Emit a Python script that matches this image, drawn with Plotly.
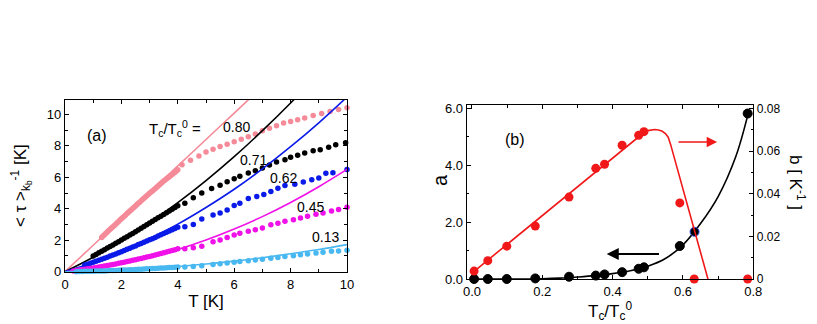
import plotly.graph_objects as go

# ---------------- Panel (a) data ----------------
# Tc/Tc0 = 0.80 (pink)
t_080 = [1.3, 1.35, 1.4, 1.45, 1.5, 1.55, 1.6, 1.65, 1.7, 1.75, 1.8, 1.85, 1.9, 1.95, 2.0, 2.05,
         2.1, 2.15, 2.2, 2.25, 2.3, 2.35, 2.4, 2.45, 2.5, 2.55, 2.6, 2.65, 2.7, 2.75, 2.8, 2.85,
         2.9, 2.95, 3.0, 3.05, 3.1, 3.15, 3.2, 3.25, 3.3, 3.35, 3.4, 3.45, 3.5, 3.55, 3.6, 3.65,
         3.7, 3.75, 3.8, 3.85, 3.9, 3.95, 4.0,
         4.15, 4.45, 4.75, 5.0, 5.25, 5.5, 5.75, 6.0, 6.25, 6.5, 6.75, 7.0, 7.25, 7.5, 7.75, 8.0,
         8.25, 8.5, 8.8, 9.1, 9.4, 9.7, 10.0]
y_080 = [2.18, 2.27, 2.35, 2.44, 2.52, 2.61, 2.69, 2.78, 2.86, 2.94, 3.02, 3.11, 3.19, 3.28, 3.36,
         3.44, 3.52, 3.61, 3.69, 3.78, 3.86, 3.94, 4.02, 4.1, 4.18, 4.27, 4.35, 4.42, 4.5, 4.58,
         4.66, 4.74, 4.82, 4.9, 4.98, 5.06, 5.13, 5.21, 5.28, 5.36, 5.44, 5.52, 5.6, 5.68, 5.76,
         5.83, 5.9, 5.97, 6.04, 6.11, 6.18, 6.25, 6.32, 6.4, 6.48,
         6.8, 7.08, 7.35, 7.6, 7.78, 7.95, 8.1, 8.25, 8.42, 8.58, 8.75, 8.95, 9.12, 9.28, 9.45, 9.55,
         9.65, 9.76, 9.92, 10.05, 10.18, 10.3, 10.42]

# Tc/Tc0 = 0.71 (black)
t_071 = [1.0, 1.1, 1.2, 1.3, 1.4, 1.5, 1.6, 1.7, 1.8, 1.9, 2.0, 2.1, 2.2, 2.3, 2.4, 2.5, 2.6, 2.7,
         2.8, 2.9, 3.0, 3.1, 3.2, 3.3, 3.4, 3.5, 3.6, 3.7, 3.8, 3.9, 4.0,
         4.25, 4.55, 4.85, 5.2, 5.5, 5.75, 6.0, 6.2, 6.5, 6.75, 7.0, 7.25, 7.5, 7.8, 8.0, 8.25,
         8.5, 8.8, 9.05, 9.35, 9.6, 9.95]
y_071 = [1.0, 1.1, 1.2, 1.3, 1.4, 1.5, 1.6, 1.7, 1.8, 1.91, 2.01, 2.12, 2.22, 2.33, 2.43, 2.54,
         2.65, 2.76, 2.87, 2.98, 3.09, 3.2, 3.31, 3.42, 3.53, 3.64, 3.75, 3.86, 3.97, 4.08, 4.19,
         4.35, 4.7, 5.0, 5.28, 5.49, 5.72, 5.9, 6.06, 6.27, 6.42, 6.59, 6.78, 6.97, 7.12, 7.27, 7.4,
         7.54, 7.69, 7.75, 7.9, 8.07, 8.2]

# Tc/Tc0 = 0.62 (blue)
t_062 = [0.7, 0.8, 0.9, 1.0, 1.1, 1.2, 1.3, 1.4, 1.5, 1.6, 1.7, 1.8, 1.9, 2.0, 2.1, 2.2, 2.3, 2.4,
         2.5, 2.6, 2.7, 2.8, 2.9, 3.0, 3.1, 3.2, 3.3, 3.4, 3.5, 3.6, 3.7, 3.8, 3.9, 4.0,
         4.25, 4.55, 4.85, 5.25, 5.5, 5.75, 6.0, 6.2, 6.5, 6.8, 7.05, 7.3, 7.55, 7.8, 8.15, 8.45,
         8.75, 9.0, 9.25, 9.5, 10.0]
y_062 = [0.42, 0.48, 0.54, 0.6, 0.66, 0.72, 0.79, 0.85, 0.92, 0.99, 1.06, 1.13, 1.2, 1.27, 1.34,
         1.42, 1.49, 1.57, 1.64, 1.72, 1.79, 1.87, 1.95, 2.03, 2.1, 2.18, 2.26, 2.34, 2.42, 2.5,
         2.58, 2.66, 2.74, 2.82,
         2.85, 3.0, 3.35, 3.6, 3.73, 3.92, 4.2, 4.35, 4.65, 4.78, 4.9, 5.1, 5.3, 5.48, 5.55, 5.7,
         5.85, 5.95, 6.25, 6.28, 6.5]

# Tc/Tc0 = 0.45 (magenta)
t_045 = [0.3, 0.4, 0.5, 0.6, 0.7, 0.8, 0.9, 1.0, 1.1, 1.2, 1.3, 1.4, 1.5, 1.6, 1.7, 1.8, 1.9, 2.0,
         2.1, 2.2, 2.3, 2.4, 2.5, 2.6, 2.7, 2.8, 2.9, 3.0, 3.1, 3.2, 3.3, 3.4, 3.5, 3.6, 3.7, 3.8,
         3.9, 4.0,
         4.25, 4.55, 4.85, 5.25, 5.5, 5.75, 6.0, 6.2, 6.5, 6.75, 7.0, 7.3, 7.55, 7.8, 8.1, 8.35,
         8.6, 8.9, 9.15, 9.45, 9.7, 10.0]
y_045 = [0.05, 0.07, 0.1, 0.12, 0.15, 0.18, 0.21, 0.24, 0.27, 0.3, 0.33, 0.36, 0.39, 0.42, 0.46,
         0.49, 0.53, 0.56, 0.6, 0.64, 0.68, 0.72, 0.76, 0.8, 0.84, 0.88, 0.93, 0.97, 1.02, 1.06,
         1.11, 1.15, 1.2, 1.25, 1.3, 1.35, 1.4, 1.45,
         1.45, 1.52, 1.62, 1.9, 2.02, 2.18, 2.33, 2.45, 2.57, 2.67, 2.78, 2.98, 3.08, 3.2, 3.3,
         3.41, 3.52, 3.65, 3.73, 3.85, 3.95, 4.1]

# Tc/Tc0 = 0.13 (light blue)
t_013 = [0.4, 0.5, 0.6, 0.7, 0.8, 0.9, 1.0, 1.1, 1.2, 1.3, 1.4, 1.5, 1.6, 1.7, 1.8, 1.9, 2.0, 2.1,
         2.2, 2.3, 2.4, 2.5, 2.6, 2.7, 2.8, 2.9, 3.0, 3.1, 3.2, 3.3, 3.4, 3.5, 3.6, 3.7, 3.8, 3.9,
         4.0,
         4.25, 4.55, 4.85, 5.25, 5.5, 5.75, 6.0, 6.2, 6.5, 6.75, 7.0, 7.3, 7.55, 7.8, 8.1, 8.35,
         8.6, 8.9, 9.15, 9.45, 9.7, 10.0]
y_013 = [0.0, 0.01, 0.01, 0.02, 0.02, 0.03, 0.03, 0.04, 0.04, 0.05, 0.05, 0.06, 0.07, 0.07, 0.08,
         0.09, 0.1, 0.1, 0.11, 0.12, 0.13, 0.14, 0.15, 0.16, 0.17, 0.18, 0.19, 0.2, 0.21, 0.22,
         0.23, 0.24, 0.25, 0.26, 0.27, 0.28, 0.29,
         0.3, 0.33, 0.37, 0.45, 0.5, 0.55, 0.6, 0.64, 0.69, 0.74, 0.79, 0.85, 0.9, 0.96, 1.02,
         1.07, 1.12, 1.18, 1.24, 1.3, 1.32, 1.36]

# fit curves
fit_t = [0, 1, 2, 3, 4, 5, 6, 7, 8, 9, 10]
fit_080 = [0, 1.68, 3.36, 5.04, 6.72, 8.4, 10.08, 11.76, 13.44, 15.12, 16.8]
fit_071 = [0, 0.92, 1.95, 3.11, 4.39, 5.79, 7.31, 8.96, 10.72, 12.6, 14.6]
fit_062 = [0, 0.58, 1.28, 2.09, 3.02, 4.08, 5.24, 6.53, 7.94, 9.46, 11.1]
fit_045 = [0, 0.2, 0.5, 0.9, 1.41, 2.01, 2.71, 3.5, 4.4, 5.4, 6.5]
fit_013 = [0, 0.037, 0.104, 0.2, 0.33, 0.49, 0.67, 0.89, 1.14, 1.41, 1.72]

series_labels = ["0.80", "0.71", "0.62", "0.45", "0.13"]
label_pos_t = [6.09, 6.68, 7.74, 8.69, 9.22]
label_pos_y = [9.2, 7.1, 5.93, 4.13, 2.22]

# ---------------- Panel (b) data ----------------
ratio_a = [0.006, 0.045, 0.099, 0.18, 0.276, 0.352, 0.377, 0.427, 0.474, 0.489, 0.591, 0.633, 0.784]
a_vals = [0.0, 0.0, 0.0, 0.02, 0.08, 0.12, 0.16, 0.24, 0.36, 0.41, 1.16, 1.66, 5.82]
ratio_b = [0.006, 0.045, 0.099, 0.18, 0.276, 0.352, 0.377, 0.427, 0.474, 0.489, 0.591, 0.632, 0.784]
b_vals = [0.0037, 0.0086, 0.0154, 0.0248, 0.0384, 0.0519, 0.0538, 0.0627, 0.0674, 0.0691,
          0.0357, 0.0, 0.0]

fit_a_x = [0, 0.1, 0.2, 0.25, 0.3, 0.35, 0.4, 0.45, 0.5, 0.55, 0.6, 0.65, 0.7, 0.75, 0.785]
fit_a_y = [0, 0, 0.01, 0.03, 0.07, 0.12, 0.19, 0.29, 0.45, 0.72, 1.2, 1.95, 2.9, 4.3, 5.8]
fit_b_x = [0, 0.47, 0.49, 0.5, 0.51, 0.52, 0.53, 0.54, 0.55, 0.558, 0.565, 0.575, 0.671]
fit_b_y = [0.0028, 0.0665, 0.0688, 0.0696, 0.0700, 0.0701, 0.0699, 0.0694, 0.0682, 0.0665,
           0.0630, 0.0570, 0.0]

PINK = "#F58A98"
BLACK = "#000000"
BLUE = "#0A1AE8"
MAGENTA = "#F010E8"
CYAN = "#48B8F0"
RED = "#F01818"
FONT = "Arial, Liberation Sans, sans-serif"

# the page body has an 8 px margin: lay the figure out in window pixels
OX, OY, W, H = 8, 8, 809, 316


def px_x(p):
    return (p - OX) / W


def px_y(p):
    return 1 - (p - OY) / H


fig = go.Figure()

for t, y, ft, c in [(t_080, y_080, fit_080, PINK), (t_071, y_071, fit_071, BLACK),
                    (t_062, y_062, fit_062, BLUE), (t_045, y_045, fit_045, MAGENTA),
                    (t_013, y_013, fit_013, CYAN)]:
    fig.add_trace(go.Scatter(x=fit_t, y=ft, mode="lines", line=dict(color=c, width=1.6, shape="spline"),
                             xaxis="x", yaxis="y", showlegend=False, hoverinfo="skip"))
    fig.add_trace(go.Scatter(x=t, y=y, mode="markers", marker=dict(color=c, size=5.5),
                             xaxis="x", yaxis="y", showlegend=False, cliponaxis=False))

# panel b
fig.add_trace(go.Scatter(x=fit_a_x, y=fit_a_y, mode="lines", line=dict(color=BLACK, width=1.6, shape="spline"),
                         xaxis="x2", yaxis="y2", showlegend=False))
fig.add_trace(go.Scatter(x=fit_b_x, y=fit_b_y, mode="lines", line=dict(color=RED, width=1.6),
                         xaxis="x2", yaxis="y3", showlegend=False))
fig.add_trace(go.Scatter(x=ratio_b, y=b_vals, mode="markers", marker=dict(color=RED, size=9),
                         xaxis="x2", yaxis="y3", showlegend=False, cliponaxis=False))
edge = ["#000000"] * len(a_vals)
edge[11] = "#3050E0"
fig.add_trace(go.Scatter(x=ratio_a, y=a_vals, mode="markers",
                         marker=dict(color=BLACK, size=9, line=dict(color=edge, width=1)),
                         xaxis="x2", yaxis="y2", showlegend=False, cliponaxis=False))

tickfont = dict(family=FONT, size=13, color="black")
common = dict(showline=True, linecolor="black", linewidth=1.2, ticks="inside", ticklen=4,
              tickcolor="black", showgrid=False, zeroline=False, tickfont=tickfont, automargin=False)

annotations = [
    dict(text="(a)", x=1.12, y=8.68, xref="x", yref="y", showarrow=False,
         font=dict(family=FONT, size=16, color="black")),
    dict(text="T<sub>c</sub>/T<sub>c</sub><sup>0</sup> =", x=3.9, y=9.1, xref="x", yref="y",
         showarrow=False, font=dict(family=FONT, size=15, color="black")),
    dict(text="(b)", x=0.122, y=4.9, xref="x2", yref="y2", showarrow=False,
         font=dict(family=FONT, size=16, color="black")),
    dict(x=0.697, y=4.82, ax=0.583, ay=4.82, xref="x2", yref="y2", axref="x2", ayref="y2",
         text="", showarrow=True, arrowhead=2, arrowsize=1.3, arrowwidth=1.6, arrowcolor=RED),
    dict(x=0.383, y=0.88, ax=0.536, ay=0.88, xref="x2", yref="y2", axref="x2", ayref="y2",
         text="", showarrow=True, arrowhead=2, arrowsize=1.1, arrowwidth=2.2, arrowcolor=BLACK),
    dict(text="a", x=px_x(440), y=px_y(180), xref="paper", yref="paper", showarrow=False,
         xanchor="center", yanchor="middle",
         textangle=-90, font=dict(family=FONT, size=20, color="black")),
    dict(text="b [ K<sup>-1</sup> ]", x=px_x(797), y=px_y(182), xref="paper", yref="paper",
         xanchor="center", yanchor="middle",
         showarrow=False, textangle=90, font=dict(family=FONT, size=17, color="black")),
    dict(text="< τ ><sub>k<sub>b</sub></sub><sup>-1</sup> [K]", x=px_x(21), y=px_y(186),
         xref="paper", yref="paper", showarrow=False, textangle=-90,
         xanchor="center", yanchor="middle",
         font=dict(family=FONT, size=17, color="black")),
]
for lab, lt, ly in zip(series_labels, label_pos_t, label_pos_y):
    annotations.append(dict(text=lab, x=lt, y=ly, xref="x", yref="y", showarrow=False,
                            font=dict(family=FONT, size=14, color="black")))

fig.update_layout(
    width=W, height=H,
    margin=dict(l=0, r=0, t=0, b=0),
    paper_bgcolor="white", plot_bgcolor="white",
    font=dict(family=FONT, color="black"),
    xaxis=dict(domain=[px_x(65), px_x(347)], range=[0, 10], anchor="y", tickvals=[0, 2, 4, 6, 8, 10],
               mirror="ticks", minor=dict(tickvals=[1, 3, 5, 7, 9], ticks="inside", ticklen=2.5,
                                          tickcolor="black"),
               title=dict(text="T [K]", font=dict(family=FONT, size=17), standoff=4), **common),
    yaxis=dict(domain=[px_y(272), px_y(100)], range=[-0.02, 10.91], anchor="x",
               tickvals=[0, 2, 4, 6, 8, 10], mirror="ticks",
               minor=dict(tickvals=[1, 3, 5, 7, 9], ticks="inside", ticklen=2.5, tickcolor="black"),
               **common),
    xaxis2=dict(domain=[px_x(466.7), px_x(753.3)], range=[-0.015, 0.8], anchor="y2",
                tickvals=[0, 0.2, 0.4, 0.6, 0.8], tickformat=".1f", mirror="ticks",
                minor=dict(tickvals=[0.1, 0.3, 0.5, 0.7], ticks="inside", ticklen=2.5, tickcolor="black"),
                title=dict(text="T<sub>c</sub>/T<sub>c</sub><sup>0</sup>", font=dict(family=FONT, size=17),
                           standoff=2), **common),
    yaxis2=dict(domain=[px_y(279), px_y(105)], range=[0, 6.12], anchor="x2",
                tickvals=[0, 2, 4, 6], tickformat=".1f",
                minor=dict(tickvals=[1, 3, 5], ticks="inside", ticklen=2.5, tickcolor="black"),
                **common),
    yaxis3=dict(overlaying="y2", side="right", anchor="x2", range=[0, 0.0816],
                tickvals=[0, 0.02, 0.04, 0.06, 0.08], ticktext=["0", "0.02", "0.04", "0.06", "0.08"],
                tickfont=dict(family=FONT, size=12, color="black"),
                minor=dict(tickvals=[0.01, 0.03, 0.05, 0.07], ticks="inside", ticklen=2.5,
                           tickcolor="black"),
                **{k: v for k, v in common.items() if k != "tickfont"}),
    annotations=annotations,
)

fig.write_html("out.html")
